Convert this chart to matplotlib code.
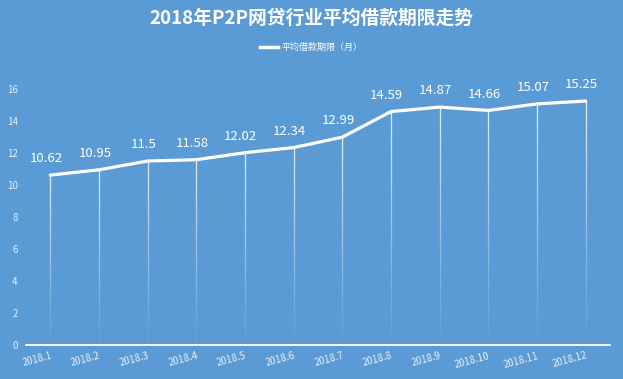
import matplotlib
matplotlib.use("Agg")
import matplotlib.pyplot as plt
from matplotlib.collections import LineCollection
import numpy as np

plt.rcParams['font.family'] = ['Noto Sans CJK SC', 'DejaVu Sans']

months = ['2018.1', '2018.2', '2018.3', '2018.4', '2018.5', '2018.6',
          '2018.7', '2018.8', '2018.9', '2018.10', '2018.11', '2018.12']
values = [10.62, 10.95, 11.5, 11.58, 12.02, 12.34, 12.99, 14.59, 14.87, 14.66, 15.07, 15.25]
yticks = [0, 2, 4, 6, 8, 10, 12, 14, 16]
title = '2018年P2P网贷行业平均借款期限走势'
series_name = '平均借款期限（月）'

bg = '#5b9bd5'
W, H = 623, 379
fig = plt.figure(figsize=(W / 100, H / 100), dpi=100, facecolor=bg)
left, right = 26, 610
bottom, top = 345, 73
ax = fig.add_axes([left / W, (H - bottom) / H, (right - left) / W, (bottom - top) / H])
ax.set_facecolor(bg)

x = np.arange(len(months))
ax.set_xlim(-0.5, len(months) - 0.5)
ax.set_ylim(0, 17)

# fading drop lines
for xi, v in zip(x, values):
    n = 60
    ys = np.linspace(0, v, n + 1)
    segs = [[(xi, ys[i]), (xi, ys[i + 1])] for i in range(n)]
    alphas = np.linspace(0.05, 0.9, n) ** 1.2
    cols = [(1, 1, 1, a) for a in alphas]
    ax.add_collection(LineCollection(segs, colors=cols, linewidths=0.9, zorder=2))

ax.plot(x, values, color='white', lw=2.3, zorder=3, solid_capstyle='round')

for xi, v in zip(x, values):
    ax.annotate(f'{v:g}', (xi, v), xytext=(-3, 7), textcoords='offset points',
                ha='center', va='bottom', color='white', fontsize=9.5,
                fontweight='medium', zorder=4)

for s in ['top', 'right', 'left']:
    ax.spines[s].set_visible(False)
ax.spines['bottom'].set_color('white')
ax.spines['bottom'].set_linewidth(1.3)

ax.set_xticks(x)
ax.set_xticklabels(months, rotation=15, fontsize=7, color=(1, 1, 1, 0.85),
                   ha='right', rotation_mode='anchor')
ax.set_yticks(yticks)
ax.set_yticklabels([str(t) for t in yticks], fontsize=7, color=(1, 1, 1, 0.85))
ax.tick_params(axis='both', length=0)
ax.tick_params(axis='x', pad=4)
ax.tick_params(axis='y', pad=6)

fig.text(0.5, 1 - 18 / H, title, ha='center', va='center', color='white',
         fontsize=13.5, fontweight='bold')
# legend
ly = 1 - 47 / H
fig.add_artist(plt.Line2D([260 / W, 278 / W], [ly, ly], color='white', lw=2.5))
fig.text(281 / W, ly, series_name, ha='left', va='center', color='white', fontsize=6.5)

fig.savefig('out.png', dpi=100, facecolor=bg)
